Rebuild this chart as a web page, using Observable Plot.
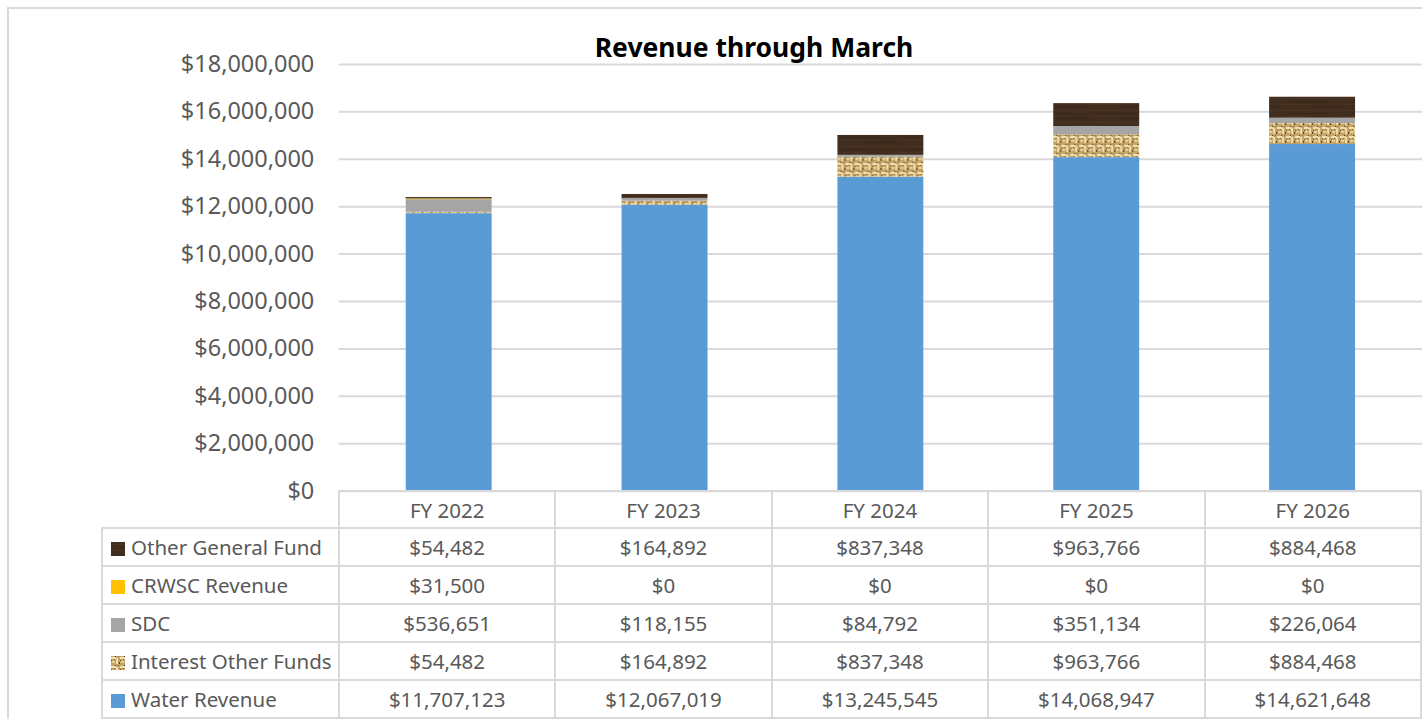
<!DOCTYPE html>
<html>
<head>
<meta charset="utf-8">
<script src="https://cdn.jsdelivr.net/npm/d3@7"></script>
<script src="https://cdn.jsdelivr.net/npm/@observablehq/plot@0.6"></script>
<style>
  html, body { margin: 0; padding: 0; background: #fff; width: 1422px; height: 719px; overflow: hidden; }
  body { position: relative; font-family: "Noto Sans", sans-serif; }
  #frame { position: absolute; left: 7px; top: 7px; width: 1500px; height: 800px; border: 2px solid #d9d9d9; box-sizing: border-box; }
  #title { position: absolute; left: 504px; width: 500px; top: 31px; text-align: center; font-weight: bold; font-size: 26.5px; line-height: 32px; color: #000; }
  #chart { position: absolute; left: 0; top: 0; }
  #table { position: absolute; left: 101px; top: 490px; border-collapse: collapse; table-layout: fixed; color: #595959; font-size: 20.5px; }
  #table td { border: 2px solid #d9d9d9; padding: 0; text-align: center; white-space: nowrap; overflow: hidden; }
  #table td.blank { border: none; }
  #table td.lab { text-align: left; padding-left: 8px; }
  #table tr.head td { height: 35px; }
  #table tr.row td { height: 36px; }
  .sw { display: inline-block; vertical-align: -1px; margin-right: 6px; }
</style>
</head>
<body>
<svg width="0" height="0" style="position:absolute">
  <defs>
    <pattern id="burlap" width="9" height="9" patternUnits="userSpaceOnUse">
      <rect width="9" height="9" fill="#c4a467"/>
      <rect x="0" y="1" width="5" height="2" fill="#f2e2b8"/>
      <rect x="5" y="2" width="2" height="6" fill="#efdcab"/>
      <rect x="1" y="5" width="3" height="2" fill="#e6d09c"/>
      <rect x="4" y="0" width="1" height="1" fill="#3f2f16"/>
      <rect x="8" y="6" width="1" height="2" fill="#4d3a1c"/>
      <rect x="0" y="4" width="1" height="1" fill="#6b5229"/>
      <rect x="3" y="3" width="1" height="1" fill="#7d6232"/>
      <rect x="7" y="0" width="1" height="1" fill="#8a6c38"/>
    </pattern>
    <pattern id="wood" width="64" height="12" patternUnits="userSpaceOnUse">
      <rect width="64" height="12" fill="#412d1e"/>
      <rect x="0" y="2" width="64" height="1" fill="#4c3625" opacity="0.8"/>
      <rect x="10" y="5" width="40" height="1" fill="#37261a"/>
      <rect x="0" y="8" width="30" height="1" fill="#4e3827" opacity="0.7"/>
      <rect x="34" y="10" width="30" height="1" fill="#352418"/>
    </pattern>
  </defs>
</svg>
<div id="frame"></div>
<div id="chart"></div>
<div id="title">Revenue through March</div>
<table id="table"></table>
<script>
const years = ["FY 2022", "FY 2023", "FY 2024", "FY 2025", "FY 2026"];
// stacking order, bottom to top
const seriesNames = ["Water Revenue", "Interest Other Funds", "SDC", "CRWSC Revenue", "Other General Fund"];
const waterRevenue = [11707123, 12067019, 13245545, 14068947, 14621648];
const interestOtherFunds = [54482, 164892, 837348, 963766, 884468];
const sdc = [536651, 118155, 84792, 351134, 226064];
const crwscRevenue = [31500, 0, 0, 0, 0];
const otherGeneralFund = [54482, 164892, 837348, 963766, 884468];
const seriesFills = ["#5b9bd5", "url(#burlap)", "#a5a5a5", "#ffc000", "url(#wood)"];
const yTicks = [0, 2000000, 4000000, 6000000, 8000000, 10000000, 12000000, 14000000, 16000000, 18000000];
// table row order (top to bottom)
const tableOrder = ["Other General Fund", "CRWSC Revenue", "SDC", "Interest Other Funds", "Water Revenue"];

const seriesValues = [waterRevenue, interestOtherFunds, sdc, crwscRevenue, otherGeneralFund];
const data = [];
seriesNames.forEach((s, i) => years.forEach((y, j) => data.push({series: s, year: y, value: seriesValues[i][j]})));

const fmt = d => "$" + d3.format(",")(d);

const chart = Plot.plot({
  width: 1423,
  height: 510,
  marginTop: 64,
  marginBottom: 19,
  marginLeft: 339,
  marginRight: 0,
  style: {fontFamily: "Noto Sans, sans-serif", background: "transparent", overflow: "visible"},
  x: {domain: years, paddingInner: 0.6, paddingOuter: 0.3, axis: null},
  y: {domain: [0, 18000000], axis: null},
  color: {domain: seriesNames, range: seriesFills},
  marks: [
    Plot.ruleY(yTicks, {stroke: "#d9d9d9", strokeWidth: 2}),
    Plot.axisY({ticks: yTicks, tickFormat: fmt, tickSize: 0, tickPadding: 25, fontSize: 23.5, fill: "#595959", label: null}),
    Plot.barY(data, {x: "year", y: "value", fill: "series", order: seriesNames})
  ]
});
document.getElementById("chart").appendChild(chart);

// data table
const table = document.getElementById("table");
const colgroup = document.createElement("colgroup");
[237, 217, 217, 217, 217, 217].forEach(w => { const c = document.createElement("col"); c.style.width = w + "px"; colgroup.appendChild(c); });
table.appendChild(colgroup);
const head = document.createElement("tr");
head.className = "head";
head.innerHTML = `<td class="blank"></td>` + years.map(y => `<td>${y}</td>`).join("");
table.appendChild(head);
tableOrder.forEach(name => {
  const i = seriesNames.indexOf(name);
  const tr = document.createElement("tr");
  tr.className = "row";
  const sw = `<svg class="sw" width="14" height="14"><rect width="14" height="14" fill="${seriesFills[i]}"/></svg>`;
  tr.innerHTML = `<td class="lab">${sw}${name}</td>` + seriesValues[i].map(v => `<td>${fmt(v)}</td>`).join("");
  table.appendChild(tr);
});
</script>
</body>
</html>
